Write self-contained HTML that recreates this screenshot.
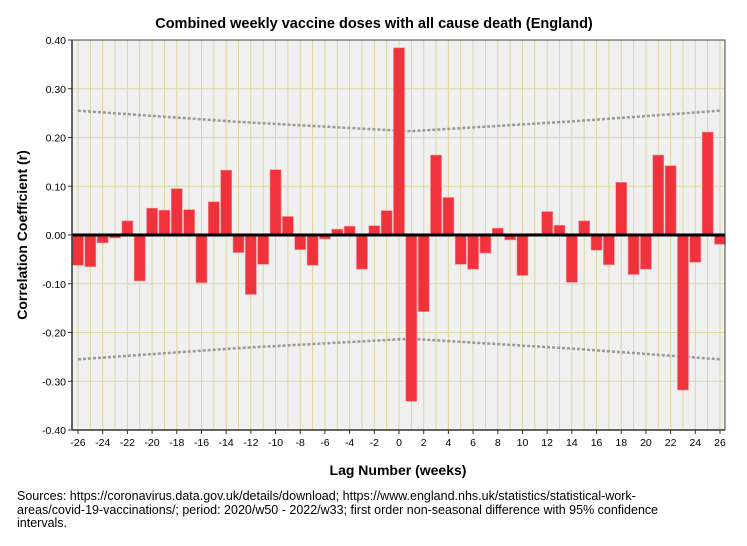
<!DOCTYPE html>
<html><head><meta charset="utf-8"><style>
body{margin:0;background:#fff;font-family:"Liberation Sans",Arial,sans-serif;}
#wrap{position:relative;width:747px;height:541px;}
.src{position:absolute;left:17px;top:490px;width:668px;font-size:12.5px;line-height:13.5px;color:#000;}
</style></head><body>
<div id="wrap">
<svg id="chart" width="747" height="541"></svg>
<div class="src">Sources: https://coronavirus.data.gov.uk/details/download; https://www.england.nhs.uk/statistics/statistical-work-areas/covid-19-vaccinations/; period: 2020/w50 - 2022/w33; first order non-seasonal difference with 95% confidence intervals.</div>
</div>
<script>
const lags = [-26,-25,-24,-23,-22,-21,-20,-19,-18,-17,-16,-15,-14,-13,-12,-11,-10,-9,-8,-7,-6,-5,-4,-3,-2,-1,0,1,2,3,4,5,6,7,8,9,10,11,12,13,14,15,16,17,18,19,20,21,22,23,24,25,26];
const coef = [-0.062,-0.065,-0.016,-0.006,0.029,-0.094,0.055,0.051,0.095,0.052,-0.098,0.068,0.133,-0.036,-0.122,-0.060,0.134,0.038,-0.030,-0.062,-0.008,0.012,0.018,-0.070,0.019,0.050,0.384,-0.341,-0.157,0.164,0.077,-0.060,-0.070,-0.037,0.014,-0.010,-0.083,0.003,0.048,0.020,-0.097,0.029,-0.031,-0.061,0.108,-0.081,-0.070,0.164,0.142,-0.318,-0.056,0.211,-0.019];
const ciLags = [-26,-13,0,1,14,26];
const ciVals = [0.255,0.232,0.214,0.213,0.233,0.255];
const yTicks = [0.4,0.3,0.2,0.1,0,-0.1,-0.2,-0.3,-0.4];
const xTickLabels = [-26,-24,-22,-20,-18,-16,-14,-12,-10,-8,-6,-4,-2,0,2,4,6,8,10,12,14,16,18,20,22,24,26];

const NS='http://www.w3.org/2000/svg';
const svg=document.getElementById('chart');
const L=72,R=725,T=40,B=430;
const x=v=>78+(v+26)*(720-78)/52;
const y=v=>235-v*487.5;
function mk(tag,attrs,parent){const e=document.createElementNS(NS,tag);for(const k in attrs)e.setAttribute(k,attrs[k]);(parent||svg).appendChild(e);return e;}

const bg=mk('rect',{x:L,y:T,width:R-L,height:B-T,fill:'#f0f0f0'});


lags.forEach(l=>{const g=mk('line',{x1:x(l),x2:x(l),y1:T,y2:B,stroke:'#dcd59e','stroke-width':1});

});
yTicks.forEach(t=>{const g=mk('line',{x1:L,x2:R,y1:y(t),y2:y(t),stroke:'#dcd59e','stroke-width':1});


const lb=mk('text',{x:66,y:y(t)+4,'text-anchor':'end','font-size':'10.5px',fill:'#000'});lb.textContent=t.toFixed(2);


mk('line',{x1:L-4,x2:L,y1:y(t),y2:y(t),stroke:'#333'});});
const ciU=ciLags.map((l,i)=>x(l)+','+y(ciVals[i])).join(' ');
const ciL=ciLags.map((l,i)=>x(l)+','+y(-ciVals[i])).join(' ');
const cu=mk('polyline',{points:ciU,fill:'none',stroke:'#999','stroke-width':2.5,'stroke-dasharray':'3 2'});


const cl=mk('polyline',{points:ciL,fill:'none',stroke:'#999','stroke-width':2.5,'stroke-dasharray':'3 2'});


lags.forEach((l,i)=>{const v=coef[i];const y0=y(Math.max(v,0)),h=Math.abs(y(v)-y(0));
const b=mk('rect',{x:x(l)-5.5,y:y0,width:11,height:h,fill:'#f0323c',stroke:'#f58a8f','stroke-width':0.6});

});
mk('line',{x1:L,x2:R,y1:y(0),y2:y(0),stroke:'#000','stroke-width':3});
mk('rect',{x:L,y:T,width:R-L,height:B-T,fill:'none',stroke:'#444','stroke-width':1});
mk('line',{x1:L,x2:L,y1:T,y2:B,stroke:'#333','stroke-width':1.5});
mk('line',{x1:L,x2:R,y1:B,y2:B,stroke:'#333','stroke-width':1.5});
xTickLabels.forEach(t=>{mk('line',{x1:x(t),x2:x(t),y1:B,y2:B+4,stroke:'#333'});
const lb=mk('text',{x:x(t),y:B+16,'text-anchor':'middle','font-size':'10.5px',fill:'#000'});lb.textContent=t;

});
const ti=mk('text',{x:374,y:28,'text-anchor':'middle','font-size':'14.5px','font-weight':'bold'});ti.textContent='Combined weekly vaccine doses with all cause death (England)';


const xt=mk('text',{x:398,y:475,'text-anchor':'middle','font-size':'14px','font-weight':'bold'});xt.textContent='Lag Number (weeks)';


const yt=mk('text',{x:0,y:0,'text-anchor':'middle','font-size':'14px','font-weight':'bold',transform:'translate(27,235) rotate(-90)'});yt.textContent='Correlation Coefficient (r)';


</script>
</body></html>
